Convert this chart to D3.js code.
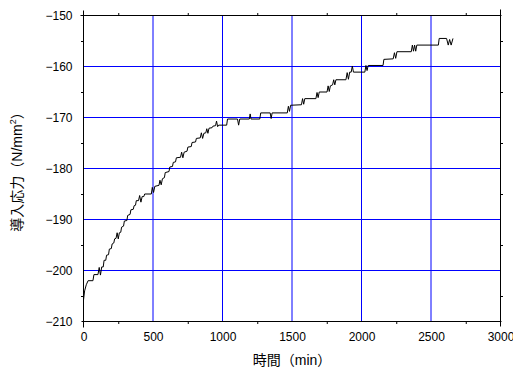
<!DOCTYPE html>
<html>
<head>
<meta charset="utf-8">
<script src="https://cdn.jsdelivr.net/npm/d3@7"></script>
<style>
  html, body { margin: 0; padding: 0; background: #fff; }
  svg { display: block; }
  text { font-family: "Liberation Sans", Arial, "Noto Sans CJK JP", sans-serif; fill: #000; }
</style>
</head>
<body>
<svg id="chart" width="513" height="371"></svg>
<script>
// Elapsed time (min) and induced stress (N/mm²)
const timeMin = [
  0, 8, 20, 33, 68, 75, 104, 113, 122, 131,
  142, 148, 160, 166, 180, 186, 200, 206, 218, 224,
  234, 242, 250, 258, 268, 274, 288, 294, 312, 318,
  335, 341, 358, 364, 374, 380, 396, 404, 413, 422,
  434, 440, 488, 495, 504, 513, 543, 550, 559, 568,
  582, 588, 615, 621, 640, 646, 662, 668, 698, 706,
  715, 724, 745, 751, 775, 781, 806, 812, 840, 848,
  857, 866, 880, 887, 895, 903, 925, 931, 950, 957,
  965, 973, 1030, 1036, 1108, 1116, 1124, 1193, 1199, 1205,
  1268, 1275, 1343, 1350, 1357, 1466, 1474, 1482, 1490, 1568,
  1576, 1584, 1592, 1672, 1680, 1688, 1696, 1752, 1760, 1768,
  1776, 1792, 1800, 1808, 1816, 1888, 1897, 1906, 1915, 1926,
  1934, 1942, 2024, 2032, 2040, 2048, 2155, 2161, 2228, 2237,
  2246, 2255, 2358, 2366, 2374, 2382, 2390, 2398, 2553, 2559,
  2612, 2624, 2634, 2645, 2658
];
const stress = [
  -205.8, -204.0, -202.8, -202.0, -202.0, -200.8, -200.8, -199.4, -200.9, -199.3,
  -199.3, -198.0, -198.0, -197.0, -196.9, -195.8, -195.7, -194.8, -194.6, -193.8,
  -193.7, -192.6, -193.8, -192.6, -192.5, -191.5, -191.3, -190.3, -190.2, -189.2,
  -189.0, -188.1, -188.0, -187.3, -187.2, -186.3, -186.3, -185.3, -186.6, -185.5,
  -185.5, -185.0, -185.0, -183.7, -184.7, -183.5, -183.3, -182.3, -183.2, -182.0,
  -181.8, -180.8, -180.6, -179.7, -179.6, -178.8, -178.7, -177.9, -177.8, -176.8,
  -177.9, -176.8, -176.6, -175.8, -175.7, -174.9, -174.8, -174.1, -174.0, -173.0,
  -174.1, -173.1, -173.0, -172.2, -173.1, -172.1, -172.0, -171.7, -171.6, -170.7,
  -171.8, -171.5, -171.5, -170.3, -170.3, -171.5, -170.3, -170.3, -169.3, -170.3,
  -170.3, -169.1, -169.1, -170.2, -169.1, -169.1, -167.8, -168.8, -167.6, -167.5,
  -166.3, -167.4, -166.3, -166.3, -165.1, -166.1, -165.0, -165.0, -163.8, -164.9,
  -163.8, -163.6, -162.6, -163.6, -162.6, -162.6, -161.2, -162.5, -161.1, -161.1,
  -159.9, -161.1, -161.1, -159.8, -160.8, -159.8, -159.8, -158.6, -158.5, -157.3,
  -158.4, -157.1, -157.1, -155.8, -157.0, -155.8, -157.0, -155.8, -155.8, -154.5,
  -154.5, -155.8, -154.7, -155.8, -154.5
];

// Axis ticks
const xMajor = [0, 500, 1000, 1500, 2000, 2500, 3000];
const xMinor = [250, 750, 1250, 1750, 2250, 2750];
const yMajor = [-210, -200, -190, -180, -170, -160, -150];
const yMinor = [-205, -195, -185, -175, -165, -155];

const xTitle = "時間（min）";

const svg = d3.select("#chart");
const pLeft = 83.5, pRight = 500.5, pTop = 15.5, pBottom = 321.5;

const x = d3.scaleLinear().domain([0, 3000]).range([pLeft, pRight]);
const y = d3.scaleLinear().domain([-210, -150]).range([pBottom, pTop]);

const minus = s => s.replace("-", "\u2212");

// Grid lines
const grid = svg.append("g").attr("stroke", "#0000ff").attr("stroke-width", 1);
grid.selectAll("line.v").data(xMajor.slice(1, -1)).join("line")
  .attr("class", "v")
  .attr("x1", d => x(d)).attr("x2", d => x(d)).attr("y1", pTop).attr("y2", pBottom);
grid.selectAll("line.h").data(yMajor.slice(1, -1)).join("line")
  .attr("class", "h")
  .attr("x1", pLeft).attr("x2", pRight).attr("y1", d => y(d)).attr("y2", d => y(d));

// Data line
const pts = timeMin.map((t, i) => [t, stress[i]]);
svg.append("path")
  .datum(pts)
  .attr("fill", "none")
  .attr("stroke", "#000")
  .attr("stroke-width", 1)
  .attr("stroke-linejoin", "round")
  .attr("d", d3.line().x(d => x(d[0])).y(d => y(d[1])));

// Minor ticks (outward) on all four sides
function minorAxis(axis, transform) {
  const g = svg.append("g").attr("transform", transform)
    .call(axis.tickSize(2.5).tickSizeOuter(0).tickFormat(""));
  g.select(".domain").remove();
  g.selectAll(".tick line").attr("stroke", "#000");
}
minorAxis(d3.axisBottom(x).tickValues(xMinor), `translate(0,${pBottom})`);
minorAxis(d3.axisTop(x).tickValues(xMinor), `translate(0,${pTop})`);
minorAxis(d3.axisLeft(y).tickValues(yMinor), `translate(${pLeft},0)`);
minorAxis(d3.axisRight(y).tickValues(yMinor), `translate(${pRight},0)`);

// Frame
const frame = svg.append("g").attr("stroke", "#000").attr("stroke-width", 1);
frame.append("line").attr("x1", pLeft - 3).attr("x2", pRight + 1).attr("y1", pTop).attr("y2", pTop);
frame.append("line").attr("x1", pLeft - 2).attr("x2", pRight + 1).attr("y1", pBottom).attr("y2", pBottom);
frame.append("line").attr("x1", pLeft).attr("x2", pLeft).attr("y1", pTop - 5).attr("y2", pBottom + 6);
frame.append("line").attr("x1", pRight).attr("x2", pRight).attr("y1", pTop - 6).attr("y2", pBottom + 5);

// Tick labels
const xl = svg.append("g").attr("transform", `translate(0,${pBottom})`)
  .call(d3.axisBottom(x).tickValues(xMajor).tickSize(0).tickPadding(11).tickFormat(d3.format("d")));
xl.select(".domain").remove();
xl.selectAll("text").attr("font-size", 12).attr("font-family", null);

const yl = svg.append("g").attr("transform", `translate(${pLeft},0)`)
  .call(d3.axisLeft(y).tickValues(yMajor).tickSize(0).tickPadding(11).tickFormat(d => minus(d3.format("d")(d))));
yl.select(".domain").remove();
yl.selectAll("text").attr("font-size", 12).attr("font-family", null);

// Axis titles
svg.append("text")
  .attr("x", (pLeft + pRight) / 2).attr("y", 365)
  .attr("text-anchor", "middle").attr("font-size", 14)
  .text(xTitle);

const yt = svg.append("text")
  .attr("transform", `translate(22,${(pTop + pBottom) / 2}) rotate(-90)`)
  .attr("text-anchor", "middle").attr("font-size", 14);
yt.append("tspan").text("導入応力（N/mm");
yt.append("tspan").attr("font-size", 9).attr("dy", -6).text("2");
yt.append("tspan").attr("dy", 6).text("）");
</script>
</body>
</html>
